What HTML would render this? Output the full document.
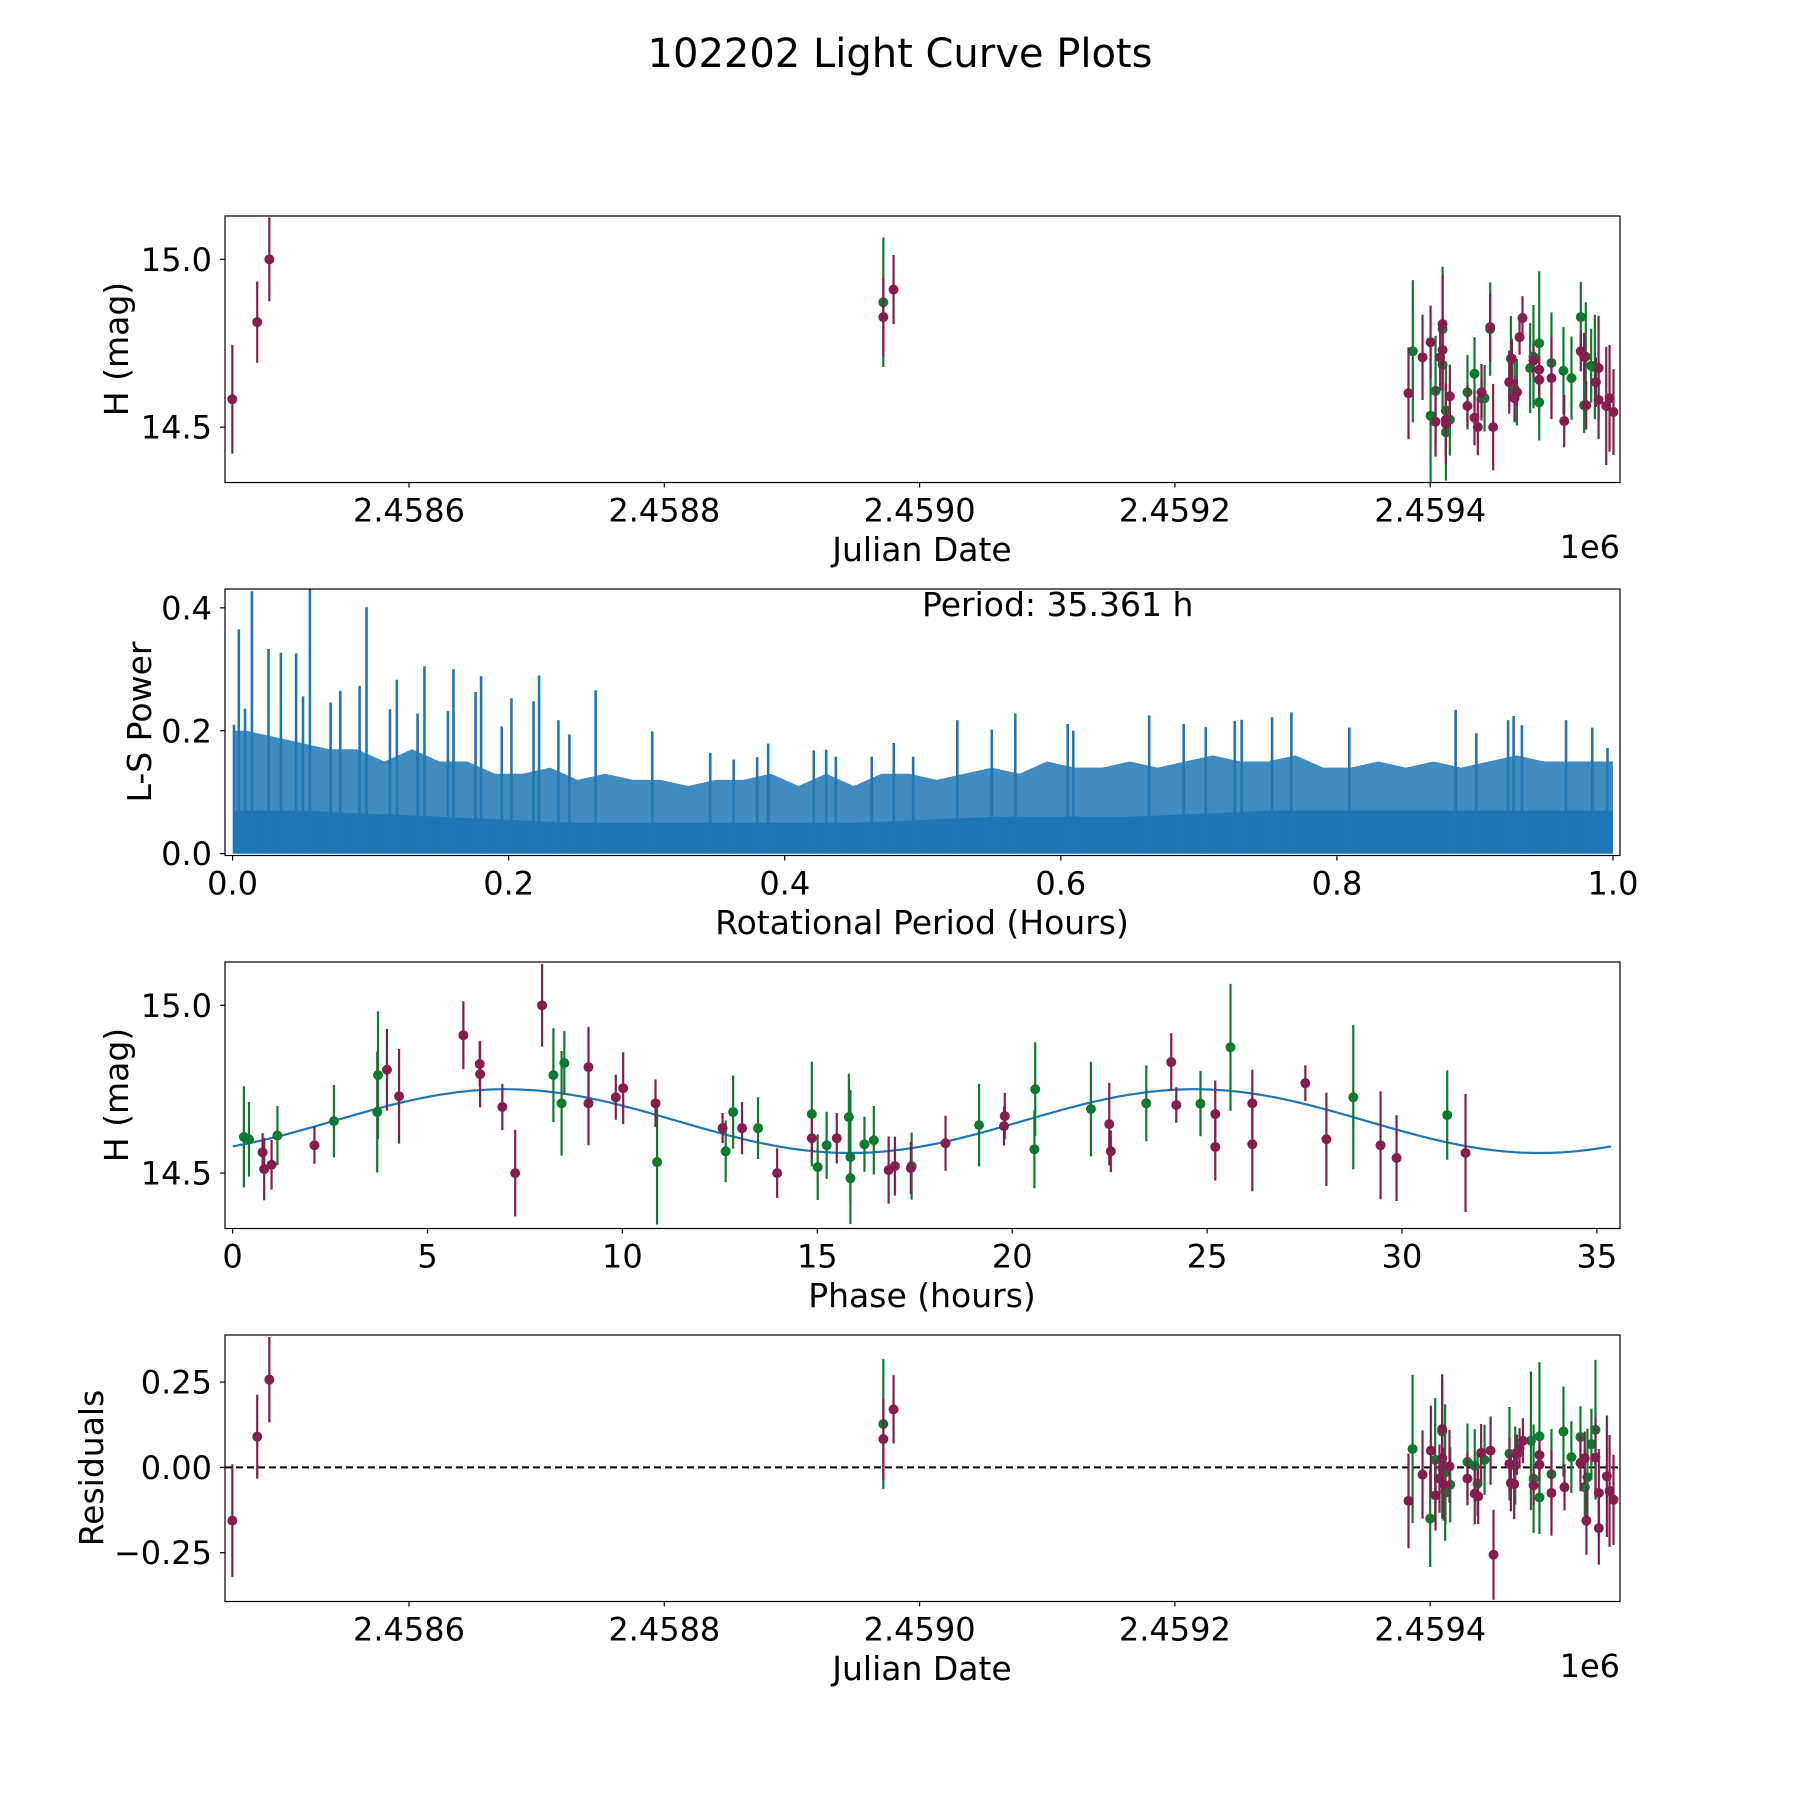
<!DOCTYPE html>
<html><head><meta charset="utf-8"><title>102202 Light Curve Plots</title>
<style>
html,body{margin:0;padding:0;background:#fff;}
svg{display:block;font-family:"DejaVu Sans","Liberation Sans",sans-serif;}
</style></head>
<body>
<svg id="fig" width="1800" height="1800" viewBox="0 0 1800 1800" xmlns="http://www.w3.org/2000/svg">
<rect x="0" y="0" width="1800" height="1800" fill="#fff"/>
<text x="900" y="67" font-size="40" text-anchor="middle">102202 Light Curve Plots</text>
<defs>
<clipPath id="c1"><rect x="225" y="216" width="1395" height="266.5"/></clipPath>
<clipPath id="c2"><rect x="225" y="589" width="1395" height="266.5"/></clipPath>
<clipPath id="c3"><rect x="225" y="962" width="1395" height="266.5"/></clipPath>
<clipPath id="c4"><rect x="225" y="1335" width="1395" height="266.5"/></clipPath>
</defs>
<g id="layer"></g>
</svg>
<script>
// ---------- Panel 1: light curve vs Julian date ----------
const lcPurpleDate = [2458461.6,2458481.1,2458490.6,2458971.6,2458979.6,2459383.0,2459394.0,2459400.3,2459404.2,2459407.8,2459409.7,2459409.7,2459412.3,2459412.3,2459415.4,2459429.2,2459434.7,2459437.3,2459440.2,2459447.0,2459449.3,2459461.9,2459464.0,2459466.1,2459467.9,2459470.0,2459472.3,2459480.9,2459485.4,2459485.4,2459495.0,2459505.0,2459518.0,2459520.6,2459522.2,2459529.8,2459531.9,2459531.9,2459537.9,2459540.5,2459543.6];
const lcPurpleMag = [14.583,14.813,15.000,14.828,14.910,14.601,14.708,14.753,14.516,14.708,14.807,14.730,14.522,14.510,14.592,14.563,14.528,14.500,14.604,14.798,14.500,14.634,14.704,14.586,14.604,14.768,14.825,14.698,14.671,14.641,14.646,14.518,14.726,14.710,14.565,14.634,14.676,14.581,14.563,14.586,14.545];
const lcPurpleErr = [0.162,0.121,0.125,0.12,0.103,0.137,0.127,0.109,0.104,0.099,0.149,0.119,0.109,0.119,0.094,0.062,0.082,0.084,0.084,0.102,0.129,0.094,0.060,0.067,0.040,0.052,0.065,0.050,0.040,0.050,0.122,0.078,0.060,0.071,0.072,0.074,0.156,0.117,0.176,0.159,0.128];
const lcGreenDate = [2458971.6,2459386.4,2459400.3,2459404.2,2459409.7,2459409.7,2459412.3,2459412.3,2459415.4,2459429.2,2459434.7,2459440.2,2459442.6,2459447.0,2459463.2,2459466.1,2459467.9,2459478.3,2459480.9,2459485.4,2459485.4,2459495.0,2459504.4,2459510.7,2459518.0,2459521.9,2459520.6,2459526.1,2459529.0];
const lcGreenMag = [14.872,14.726,14.534,14.608,14.792,14.686,14.549,14.485,14.522,14.604,14.659,14.586,14.586,14.792,14.704,14.613,14.604,14.676,14.710,14.750,14.574,14.691,14.668,14.646,14.828,14.710,14.565,14.683,14.679];
const lcGreenErr = [0.193,0.212,0.206,0.164,0.186,0.144,0.134,0.144,0.107,0.111,0.109,0.060,0.099,0.139,0.127,0.099,0.099,0.134,0.154,0.214,0.114,0.151,0.130,0.124,0.104,0.162,0.082,0.110,0.156];
const dateTicks = [2458600,2458800,2459000,2459200,2459400];
const dateTickLabels = ["2.4586","2.4588","2.4590","2.4592","2.4594"];
const magTicks = [14.5,15.0];
const magTickLabels = ["14.5","15.0"];

// ---------- Panel 2: Lomb-Scargle periodogram ----------
const lsSpikePeriod = [0.001,0.0045,0.009,0.014,0.026,0.035,0.046,0.051,0.056,0.071,0.078,0.092,0.097,0.114,0.119,0.134,0.139,0.156,0.160,0.176,0.180,0.195,0.202,0.218,0.222,0.236,0.244,0.263,0.304,0.346,0.363,0.380,0.388,0.421,0.430,0.437,0.463,0.479,0.493,0.525,0.550,0.567,0.605,0.609,0.664,0.689,0.705,0.726,0.731,0.753,0.767,0.809,0.886,0.901,0.924,0.928,0.934,0.966,0.985,0.996];
const lsSpikePower = [0.21,0.365,0.236,0.427,0.333,0.327,0.326,0.256,0.436,0.246,0.265,0.273,0.401,0.235,0.283,0.228,0.305,0.232,0.300,0.263,0.289,0.207,0.253,0.248,0.290,0.217,0.194,0.266,0.199,0.164,0.153,0.157,0.179,0.168,0.169,0.158,0.158,0.180,0.158,0.217,0.202,0.228,0.211,0.200,0.225,0.211,0.206,0.216,0.218,0.222,0.230,0.205,0.234,0.196,0.217,0.224,0.209,0.217,0.205,0.172];
// typical upper level of the dense forest, per 0.02-hour bin
const lsEnvelope = [0.20,0.19,0.18,0.17,0.17,0.15,0.17,0.15,0.15,0.13,0.13,0.14,0.12,0.13,0.12,0.12,0.11,0.12,0.12,0.13,0.11,0.13,0.11,0.13,0.13,0.12,0.13,0.14,0.13,0.15,0.14,0.14,0.15,0.14,0.15,0.16,0.15,0.15,0.16,0.14,0.14,0.15,0.14,0.15,0.14,0.15,0.16,0.15,0.15,0.15];
// solid floor level, per 0.1-hour bin
const lsFloor = [0.07,0.06,0.05,0.05,0.05,0.06,0.06,0.07,0.07,0.07];
const periodTicks = [0,0.2,0.4,0.6,0.8,1.0];
const periodTickLabels = ["0.0","0.2","0.4","0.6","0.8","1.0"];
const powerTicks = [0,0.2,0.4];
const powerTickLabels = ["0.0","0.2","0.4"];

// ---------- Panel 3: phased light curve ----------
const phPurplePhase = [0.77,0.81,1.00,2.10,3.96,4.27,5.92,6.34,6.35,6.92,7.25,7.94,9.13,9.13,9.83,10.02,10.85,12.57,13.07,13.97,14.86,15.50,16.83,16.99,17.40,18.29,19.81,19.79,22.49,22.53,24.08,24.21,25.21,25.21,26.16,26.16,27.52,28.06,29.45,29.86,31.63];
const phPurpleMag = [14.562,14.512,14.525,14.583,14.808,14.729,14.911,14.825,14.795,14.697,14.500,15.000,14.816,14.708,14.726,14.753,14.708,14.634,14.634,14.500,14.604,14.604,14.509,14.521,14.515,14.589,14.670,14.640,14.646,14.565,14.831,14.703,14.676,14.578,14.708,14.586,14.768,14.601,14.583,14.545,14.560];
const phPurpleErr = [0.057,0.093,0.074,0.055,0.122,0.141,0.101,0.067,0.099,0.069,0.129,0.123,0.12,0.125,0.067,0.107,0.071,0.045,0.078,0.074,0.060,0.075,0.100,0.088,0.078,0.082,0.069,0.058,0.123,0.062,0.086,0.053,0.10,0.10,0.10,0.14,0.053,0.139,0.161,0.128,0.176];
const phGreenPhase = [0.29,0.42,1.15,2.60,3.71,3.73,8.23,8.44,8.51,10.89,12.65,12.84,13.48,14.86,15.01,15.24,15.81,15.85,15.85,16.21,16.45,17.42,19.15,20.59,20.57,22.02,23.44,24.83,25.60,28.75,31.16];
const phGreenMag = [14.608,14.601,14.612,14.655,14.682,14.792,14.792,14.708,14.828,14.533,14.565,14.682,14.634,14.676,14.518,14.583,14.667,14.548,14.485,14.586,14.598,14.521,14.643,14.750,14.571,14.691,14.708,14.707,14.875,14.726,14.673];
const phGreenErr = [0.151,0.111,0.088,0.108,0.180,0.190,0.140,0.156,0.095,0.186,0.092,0.109,0.092,0.156,0.098,0.100,0.129,0.200,0.070,0.082,0.102,0.100,0.123,0.140,0.116,0.141,0.113,0.097,0.189,0.215,0.133];
const fitMean = 14.655, fitAmp = 0.095, fitPeriod = 17.68, fitPeakPhase = 7.0, fitMaxPhase = 35.361;
const phaseTicks = [0,5,10,15,20,25,30,35];
const phaseTickLabels = ["0","5","10","15","20","25","30","35"];

// ---------- Panel 4: residuals ----------
const resPurpleDate = [2458461.6,2458481.1,2458490.6,2458971.6,2458979.6,2459383.0,2459394.0,2459400.5,2459404.2,2459407.3,2459409.4,2459409.4,2459410.4,2459415.1,2459429.2,2459434.9,2459437.6,2459439.9,2459447.3,2459449.6,2459462.1,2459463.2,2459465.8,2459467.9,2459470.0,2459472.6,2459481.0,2459485.6,2459485.6,2459495.0,2459505.2,2459517.7,2459521.1,2459522.4,2459529.5,2459532.1,2459532.1,2459538.4,2459540.5,2459543.6];
const resPurpleVal = [-0.156,0.090,0.257,0.083,0.170,-0.098,-0.021,0.049,-0.082,-0.033,0.112,0.027,-0.049,0.003,-0.033,-0.077,-0.085,0.042,0.049,-0.256,0.010,-0.046,-0.049,0.037,0.056,0.078,-0.053,0.036,0.008,-0.075,-0.058,0.013,0.027,-0.156,0.029,-0.075,-0.178,-0.026,-0.069,-0.095];
const resPurpleErr = [0.165,0.123,0.125,0.12,0.10,0.139,0.129,0.132,0.103,0.100,0.161,0.098,0.107,0.107,0.078,0.090,0.081,0.085,0.100,0.132,0.078,0.083,0.103,0.059,0.059,0.066,0.059,0.044,0.049,0.125,0.068,0.083,0.078,0.100,0.117,0.129,0.107,0.178,0.164,0.132];
const resGreenDate = [2458971.6,2459386.2,2459400.0,2459403.9,2459409.4,2459409.4,2459411.7,2459412.0,2459415.7,2459429.2,2459434.9,2459437.1,2459442.6,2459462.1,2459466.6,2459478.9,2459481.0,2459485.6,2459485.6,2459495.0,2459504.4,2459510.6,2459517.7,2459521.1,2459523.2,2459526.3,2459529.5];
const resGreenVal = [0.127,0.054,-0.150,0.022,0.105,-0.002,-0.015,-0.073,-0.051,0.016,0.005,-0.048,0.022,0.040,0.005,0.078,-0.033,0.091,-0.088,-0.020,0.105,0.030,0.089,-0.058,-0.029,0.068,0.110];
const resGreenErr = [0.19,0.217,0.142,0.181,0.152,0.149,0.200,0.093,0.110,0.112,0.107,0.095,0.103,0.137,0.114,0.203,0.159,0.217,0.107,0.132,0.132,0.105,0.090,0.112,0.142,0.104,0.205];
const resTicks = [-0.25,0,0.25];
const resTickLabels = ["\u22120.25","0.00","0.25"];

// ---------- axis functions ----------
const AX_L = 225, AX_R = 1620;
const dateX = d => 409 + (d - 2458600) * 1.2765;
const p1Y = v => 482.5 - (v - 14.335) * 335.6;
const p3Y = v => 1228.5 - (v - 14.335) * 335.6;
const periodX = p => 232.6 + p * 1380.4;
const powerY = v => 855.5 - (v + 0.003) * 614.5;
const phaseX = p => 232.6 + p * 38.98;
const resY = v => 1601.5 - (v + 0.393) * 341.3;

const NS = "http://www.w3.org/2000/svg";
const layer = document.getElementById('layer');
const PURPLE = "#861d4f", GREEN = "#0c7a2f", BLUE = "#1f77b4";
function mk(tag, attrs, parent) {
  const e = document.createElementNS(NS, tag);
  for (const k in attrs) e.setAttribute(k, attrs[k]);
  (parent || layer).appendChild(e);
  return e;
}

function drawAxesFrame(name, top, bottom) {
  const r = mk('rect', {x: AX_L, y: top, width: AX_R - AX_L, height: bottom - top, fill: 'none', stroke: '#000', 'stroke-width': 1.2});
  
  
}
function xTicks(name, ticks, labels, fx, bottom) {
  ticks.forEach((t, i) => {
    const x = fx(t);
    const l = mk('line', {x1: x, x2: x, y1: bottom, y2: bottom + 5, stroke: '#000', 'stroke-width': 1.2});
    
    
    const tx = mk('text', {x: x, y: bottom + 39, 'font-size': 32, 'text-anchor': 'middle'});
    tx.textContent = labels[i];
    
    
  });
}
function yTicks(name, ticks, labels, fy) {
  ticks.forEach((t, i) => {
    const y = fy(t);
    const l = mk('line', {x1: AX_L - 5, x2: AX_L, y1: y, y2: y, stroke: '#000', 'stroke-width': 1.2});
    
    
    const tx = mk('text', {x: 212, y: y + 11.5, 'font-size': 32, 'text-anchor': 'end'});
    tx.textContent = labels[i];
    
    
  });
}
function label(nameStr, text, x, y, rot) {
  const attrs = {x: x, y: y, 'font-size': 33, 'text-anchor': 'middle'};
  if (rot) attrs.transform = 'rotate(-90 ' + x + ' ' + y + ')';
  const t = mk('text', attrs);
  t.textContent = text;
  
  
  return t;
}
function errSeries(name, xs, ys, es, fx, fy, color, clip) {
  const g = mk('g', {'clip-path': 'url(#' + clip + ')'});
  
  
  xs.forEach((xv, i) => {
    const x = fx(xv), y = fy(ys[i]);
    const l = mk('line', {x1: x, x2: x, y1: fy(ys[i] + es[i]), y2: fy(ys[i] - es[i]), stroke: color, 'stroke-width': 2.2}, g);
    
    
    const c = mk('circle', {cx: x, cy: y, r: 5, fill: color}, g);
    
    
  });
}

// ----- Panel 1 -----
drawAxesFrame('lightcurve', 216, 482.5);
errSeries('lightcurve-green', lcGreenDate, lcGreenMag, lcGreenErr, dateX, p1Y, GREEN, 'c1');
errSeries('lightcurve-purple', lcPurpleDate, lcPurpleMag, lcPurpleErr, dateX, p1Y, PURPLE, 'c1');
xTicks('lightcurve', dateTicks, dateTickLabels, dateX, 482.5);
yTicks('lightcurve', magTicks, magTickLabels, p1Y);
label('lightcurve-x-axis-title', 'Julian Date', 922, 561, false);
label('lightcurve-y-axis-title', 'H (mag)', 128, 349, true);
{ const t = mk('text', {x: 1620, y: 558, 'font-size': 32, 'text-anchor': 'end'}); t.textContent = '1e6';
    }

// ----- Panel 2 -----
{
  const g = mk('g', {'clip-path': 'url(#c2)'});
  
  
  const bw = 1 / lsEnvelope.length;
  const fw = 1 / lsFloor.length;
  // solid floor (through bin centres)
  let pts = [[periodX(0.001), powerY(0)], [periodX(0.001), powerY(lsFloor[0])]];
  lsFloor.forEach((f, i) => { pts.push([periodX((i + 0.5) * fw), powerY(f)]); });
  pts.push([periodX(1.0), powerY(lsFloor[lsFloor.length - 1])]);
  pts.push([periodX(1.0), powerY(0)]);
  const fl = mk('polygon', {points: pts.map(p => p.join(',')).join(' '), fill: BLUE}, g);
  
  
  // dense forest up to envelope
  pts = [[periodX(0.001), powerY(0)], [periodX(0.001), powerY(lsEnvelope[0])]];
  lsEnvelope.forEach((e, i) => { pts.push([periodX((i + 0.5) * bw), powerY(e)]); });
  pts.push([periodX(1.0), powerY(lsEnvelope[lsEnvelope.length - 1])]);
  pts.push([periodX(1.0), powerY(0)]);
  const fo = mk('polygon', {points: pts.map(p => p.join(',')).join(' '), fill: BLUE, 'fill-opacity': 0.85}, g);
  
  
  lsSpikePeriod.forEach((p, i) => {
    const x = periodX(p);
    const l = mk('line', {x1: x, x2: x, y1: powerY(0), y2: powerY(lsSpikePower[i]), stroke: BLUE, 'stroke-width': 2.6}, g);
    
    
  });
}
drawAxesFrame('periodogram', 589, 855.5);
xTicks('periodogram', periodTicks, periodTickLabels, periodX, 855.5);
yTicks('periodogram', powerTicks, powerTickLabels, powerY);
label('periodogram-x-axis-title', 'Rotational Period (Hours)', 922, 934, false);
label('periodogram-y-axis-title', 'L-S Power', 151, 722, true);
{ const t = mk('text', {x: 922, y: 616, 'font-size': 33}); t.textContent = 'Period: 35.361 h';
    }

// ----- Panel 3 -----
drawAxesFrame('phased', 962, 1228.5);
{
  const pts = [];
  for (let i = 0; i <= 400; i++) {
    const p = fitMaxPhase * i / 400;
    const v = fitMean + fitAmp * Math.cos(2 * Math.PI * (p - fitPeakPhase) / fitPeriod);
    pts.push(phaseX(p).toFixed(1) + ',' + p3Y(v).toFixed(1));
  }
  const pl = mk('polyline', {points: pts.join(' '), fill: 'none', stroke: BLUE, 'stroke-width': 2.2, 'clip-path': 'url(#c3)'});
  
  
}
errSeries('phased-green', phGreenPhase, phGreenMag, phGreenErr, phaseX, p3Y, GREEN, 'c3');
errSeries('phased-purple', phPurplePhase, phPurpleMag, phPurpleErr, phaseX, p3Y, PURPLE, 'c3');
xTicks('phased', phaseTicks, phaseTickLabels, phaseX, 1228.5);
yTicks('phased', magTicks, magTickLabels, p3Y);
label('phased-x-axis-title', 'Phase (hours)', 922, 1307, false);
label('phased-y-axis-title', 'H (mag)', 128, 1095, true);

// ----- Panel 4 -----
drawAxesFrame('residuals', 1335, 1601.5);
{ const l = mk('line', {x1: AX_L, x2: AX_R, y1: resY(0), y2: resY(0), stroke: '#000', 'stroke-width': 2, 'stroke-dasharray': '7,4'});
    }
errSeries('residuals-green', resGreenDate, resGreenVal, resGreenErr, dateX, resY, GREEN, 'c4');
errSeries('residuals-purple', resPurpleDate, resPurpleVal, resPurpleErr, dateX, resY, PURPLE, 'c4');
xTicks('residuals', dateTicks, dateTickLabels, dateX, 1601.5);
yTicks('residuals', resTicks, resTickLabels, resY);
label('residuals-x-axis-title', 'Julian Date', 922, 1680, false);
label('residuals-y-axis-title', 'Residuals', 103, 1468, true);
{ const t = mk('text', {x: 1620, y: 1677, 'font-size': 32, 'text-anchor': 'end'}); t.textContent = '1e6';
    }
</script>
</body></html>
